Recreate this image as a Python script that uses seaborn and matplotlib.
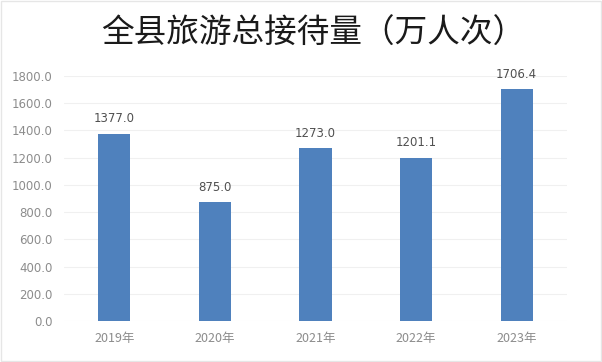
import matplotlib
matplotlib.use('Agg')
import matplotlib.pyplot as plt
import seaborn as sns
import pandas as pd

years = ['2019年', '2020年', '2021年', '2022年', '2023年']
visitors = [1377.0, 875.0, 1273.0, 1201.1, 1706.4]
yticks = [0, 200, 400, 600, 800, 1000, 1200, 1400, 1600, 1800]

sns.set_style('white')
plt.rcParams['font.family'] = ['Noto Sans CJK SC', 'DejaVu Sans']

df = pd.DataFrame({'year': years, 'value': visitors})

fig = plt.figure(figsize=(6.02, 3.62), dpi=100)
ax = fig.add_axes([64 / 602, 1 - 321 / 362, 503 / 602, 245 / 362])
sns.barplot(data=df, x='year', y='value', color='#4F81BD', width=0.32,
            saturation=1, linewidth=0, ax=ax, zorder=3)

ax.set_ylim(0, 1800)
ax.set_xlim(-0.5, 4.5)
ax.set_yticks(yticks)
ax.set_yticklabels([f'{v:.1f}' for v in yticks], fontsize=8.5, color='#8c8c8c',
                   family=['DejaVu Sans'])
ax.tick_params(axis='x', labelsize=9, colors='#8c8c8c', length=0, pad=8)
ax.tick_params(axis='y', length=0, pad=8)
ax.set_xlabel('')
ax.set_ylabel('')
ax.grid(axis='y', color='#f0f0f0', linewidth=0.8, zorder=0)
for s in ax.spines.values():
    s.set_visible(False)

for i, v in enumerate(visitors):
    ax.text(i, v + 60, f'{v:.1f}', ha='center', va='bottom', fontsize=8.5,
            color='#505050', family=['DejaVu Sans'])

fig.text(0.52, 1 - 34 / 362, '全县旅游总接待量（万人次）', ha='center', va='center',
         fontsize=23.5, color='#1a1a1a')

fig.patches.append(plt.Rectangle((0.002, 0.002), 0.996, 0.996, transform=fig.transFigure,
                                 fill=False, edgecolor='#e6e6e6', linewidth=1))

fig.savefig('out.png', dpi=100)
